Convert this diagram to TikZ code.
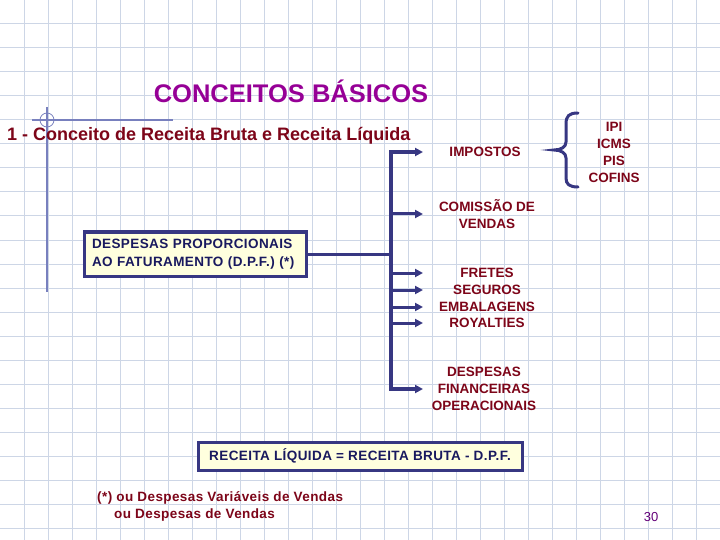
\documentclass[tikz,border=0pt]{standalone}
\usepackage{fontspec}
\setmainfont{Liberation Sans}
\usepackage{xcolor}
\usetikzlibrary{positioning}
\usetikzlibrary{arrows.meta}
\definecolor{navy}{RGB}{55,55,130}
\definecolor{navytext}{RGB}{25,25,95}
\definecolor{darkred}{RGB}{125,5,25}
\definecolor{titlepurple}{RGB}{150,0,150}
\definecolor{pagepurple}{RGB}{100,0,120}
\definecolor{gridblue}{RGB}{205,214,230}
\definecolor{crossblue}{RGB}{120,128,190}
\definecolor{boxyellow}{RGB}{255,255,222}

\begin{document}
\begin{tikzpicture}[x=1pt,y=-1pt,
  lbl/.style={font=\fontsize{13.5}{17}\selectfont\bfseries, text=darkred, align=center, inner sep=0pt},
  arr/.style={-{Triangle[length=8pt,width=8pt]}, draw=navy, line width=3pt},
  framed/.style={draw=navy, line width=3pt, fill=boxyellow, font=\fontsize{13.5}{18}\selectfont\bfseries\addfontfeature{LetterSpace=3}, text=navytext}]
  \useasboundingbox[fill=white] (0,0) rectangle (720,540);
  \foreach \gx in {24,48,...,696} \draw[gridblue, line width=1pt] (\gx,0) -- (\gx,540);
  \foreach \gy in {24,48,...,528} \draw[gridblue, line width=1pt] (0,\gy) -- (720,\gy);

  \draw[crossblue, line width=1.2pt] (32,120) -- (173,120);
  \draw[crossblue, line width=1.2pt] (47,107) -- (47,292);
  \draw[crossblue, line width=.8pt] (47,120) circle[radius=7];

  \node[font=\fontsize{25.5}{30}\selectfont\bfseries, text=titlepurple] (title) at (291,91) {CONCEITOS BÁSICOS};
  \node[anchor=west, inner sep=0pt, font=\fontsize{18}{22}\selectfont\bfseries, text=darkred] (heading) at (7,136) {1 - Conceito de Receita Bruta e Receita Líquida};

  \coordinate (bar) at (391,0);
  \coordinate (tip) at (423,0);

  \node[lbl] (impostos) at (485,152) {IMPOSTOS};
  \node[lbl] (taxes) at (614,152) {IPI\\ICMS\\PIS\\COFINS};
  \node[lbl] (comissao) at (487,214) {COMISSÃO DE\\VENDAS};
  \node[lbl] (fretes) at (487,273) {FRETES};
  \node[lbl] (seguros) at (487,290) {SEGUROS};
  \node[lbl] (embalagens) at (487,307) {EMBALAGENS};
  \node[lbl] (royalties) at (487,323) {ROYALTIES};
  \node[lbl] (despfin) at (484,389) {DESPESAS\\FINANCEIRAS\\OPERACIONAIS};

  \node[framed, minimum width=222pt, minimum height=44pt, text width=206pt, align=left, inner xsep=8pt, inner ysep=4pt] (dpf) at (195,254) {DESPESAS PROPORCIONAIS\\AO FATURAMENTO (D.P.F.) (*)};
  \node[framed, minimum width=324pt, minimum height=28pt, inner sep=2pt] (result) at (360,456) {RECEITA LÍQUIDA = RECEITA BRUTA - D.P.F.};

  % tronco com as setas
  \draw[arr, {Triangle[length=8pt,width=8pt]}-{Triangle[length=8pt,width=8pt]}, line width=3.5pt, line join=miter]
    (despfin -| tip) -- (despfin -| bar) -- (impostos -| bar) -- (impostos -| tip);
  \draw[arr] (comissao -| bar) -- (comissao -| tip);
  \draw[arr] (fretes -| bar) -- (fretes -| tip);
  \draw[arr] (seguros -| bar) -- (seguros -| tip);
  \draw[arr] (embalagens -| bar) -- (embalagens -| tip);
  \draw[arr] (royalties -| bar) -- (royalties -| tip);
  \draw[navy, line width=3pt] (dpf.east) -- (dpf.east -| bar);

  % chave
  \draw[navy, line width=3pt, line cap=round]
    (578,113) .. controls (569,113) and (566,116) .. (566,124) -- (566,142)
    .. controls (566,147) and (561,150) .. (554,150)
    .. controls (561,150) and (566,153) .. (566,158) -- (566,178)
    .. controls (566,184) and (569,187) .. (578,187);

  \node[anchor=west, align=left, inner sep=0pt, font=\fontsize{13.5}{17}\selectfont\bfseries\addfontfeature{LetterSpace=3}, text=darkred] (nota) at (97,506) {(*) ou Despesas Variáveis de Vendas\\\hspace*{17pt}ou Despesas de Vendas};
  \node[font=\fontsize{13}{15}\selectfont, text=pagepurple] (page) at (651,517) {30};
\end{tikzpicture}
\end{document}
